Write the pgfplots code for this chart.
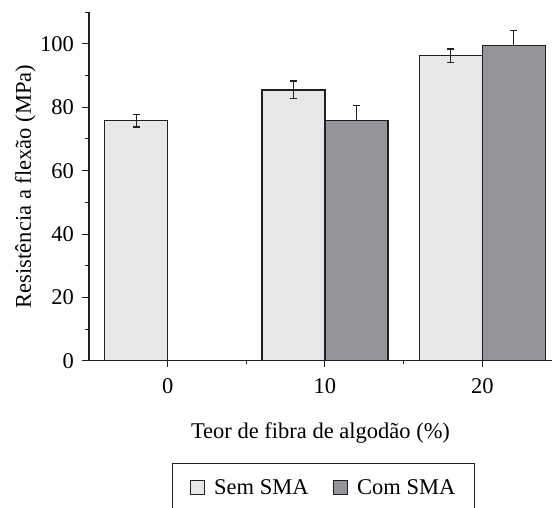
\documentclass[border=0pt]{standalone}
\usepackage{fontspec}
\setmainfont{Liberation Serif}
\usepackage{pgfplots}
\pgfplotsset{compat=1.18}
\definecolor{semc}{HTML}{E6E7E8}
\definecolor{comc}{HTML}{939598}
\definecolor{linec}{HTML}{231F20}
\pgfplotsset{sqlegend/.style={legend image code/.code={\draw[##1, line width=1bp] (0bp,-7bp) rectangle (14.5bp,7.5bp);}}}
\begin{document}
\begin{tikzpicture}
\begin{axis}[
 name=ax,
 scale only axis, width=463bp, height=348.4bp,
 xmin=-5, xmax=24.43, ymin=0, ymax=110,
 axis x line=bottom, axis y line=left,
 axis line style={-, linec, line width=1.2bp},
 xtick={0,10,20}, minor xtick={5,15},
 ytick={0,20,...,100}, minor ytick={10,30,...,110},
 tick align=outside, major tick length=6.5bp, minor tick length=3.5bp,
 tick style={linec, line width=1bp},
 font=\fontsize{22.5bp}{27bp}\selectfont,
 /pgf/number format/assume math mode=true,
 xticklabel style={yshift=-8bp},
 yticklabel style={xshift=-5bp},
 xlabel={Teor de fibra de algodão (\%)},
 ylabel={Resistência a flexão (MPa)},
 xlabel style={at={(axis description cs:0.5,0)}, anchor=base, yshift=-78bp},
 ylabel style={at={(axis description cs:0,0.5)}, anchor=base, yshift=58bp},
 ybar, bar width=4, bar shift=0pt,
 legend columns=2,
 legend style={at={(axis description cs:0.5,0)}, anchor=north, yshift=-102.6bp, xshift=3bp,
   draw=linec, line width=1bp, inner xsep=17bp, inner ysep=14bp,
   font=\fontsize{22.5bp}{27bp}\selectfont,
   nodes={inner sep=2bp},
   /tikz/every odd column/.append style={column sep=7bp},
   /tikz/every even column/.append style={column sep=22bp}},
]
\addplot[fill=semc, draw=linec, line width=1.4bp, sqlegend,
  error bars/.cd, y dir=both, y explicit, error mark=-,
  error bar style={linec, line width=1.3bp},
  error mark options={linec, line width=1.3bp, mark size=3.5bp, rotate=90}]
  coordinates {(-2,75.8) +- (0,2.0) (8,85.5) +- (0,2.8) (18,96.3) +- (0,2.1)};
\addplot[fill=comc, draw=linec, line width=1.4bp, sqlegend,
  error bars/.cd, y dir=plus, y explicit, error mark=-,
  error bar style={linec, line width=1.3bp},
  error mark options={linec, line width=1.3bp, mark size=3.5bp, rotate=90}]
  coordinates {(12,75.8) +- (0,4.8) (22,99.5) +- (0,4.7)};
\legend{Sem SMA, Com SMA}
\end{axis}
\pgfresetboundingbox
\path ([xshift=-89bp,yshift=-147.3bp]ax.south west) rectangle ([yshift=12.3bp]ax.north east);
\end{tikzpicture}
\end{document}
